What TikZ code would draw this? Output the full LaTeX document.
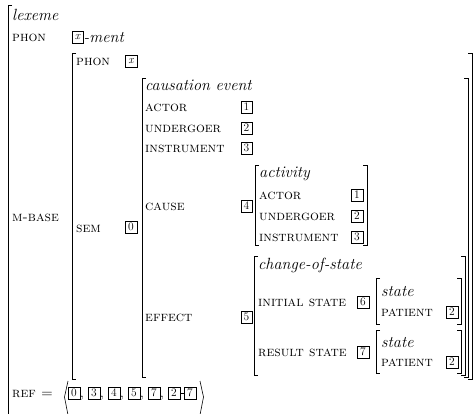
\documentclass[tikz,border=0pt]{standalone}
\usepackage{fontspec}
\newcommand\avmL[3]{\draw[brk] ({#1+4},#2) -- (#1,#2) -- (#1,#3) -- ({#1+4},#3);}
\newcommand\avmR[3]{\draw[brk] ({#1-4},#2) -- (#1,#2) -- (#1,#3) -- ({#1-4},#3);}
\tikzset{
  lbl/.style={anchor=base west, inner sep=0pt, font=\fontsize{14}{16}\selectfont\scshape},
  typ/.style={anchor=base west, inner sep=0pt, font=\fontsize{16.2}{18}\selectfont\itshape},
  tagbox/.style={draw, line width=0.5pt, minimum width=11.5pt, minimum height=11.5pt, inner sep=0pt, font=\fontsize{11.5}{12}\selectfont},
  brk/.style={line width=0.8pt},
}
\begin{document}
\begin{tikzpicture}[x=1pt,y=-1pt]
\useasboundingbox (0,0) rectangle (473,413);
% brackets
\avmL{8}{5}{420}
\avmL{72}{53}{379} \avmR{472}{53}{379}
\avmL{142}{78}{377} \avmR{468}{78}{377}
\avmL{255}{165}{245} \avmR{367}{165}{245}
\avmL{254}{256}{375} \avmR{465}{256}{375}
\avmL{376}{278}{324} \avmR{461}{278}{324}
\avmL{376}{330}{373} \avmR{461}{330}{373}
% outer
\node[typ] (lex) at (12,20) {lexeme};
\node[lbl] (phon1) at (12,41) {phon};
\node[tagbox] (tx1) at (77.5,37) {\itshape x};
\node[typ] (ment) at (83.5,42) {-ment};
\node[lbl] (mbase) at (12,221) {m-base};
% m-base value
\node[lbl] (phon2) at (76,65) {phon};
\node[tagbox] (tx2) at (131,61) {\itshape x};
\node[lbl] (sem) at (76,232) {sem};
\node[tagbox] (t0) at (131,227) {0};
% causation event
\node[typ] (caus) at (145,90) {causation event};
\node[lbl] (act1) at (145,111) {actor};
\node[tagbox] (c1) at (246.5,107) {1};
\node[lbl] (und1) at (145,132) {undergoer};
\node[tagbox] (c2) at (246.5,128) {2};
\node[lbl] (ins1) at (145,152) {instrument};
\node[tagbox] (c3) at (246.5,148) {3};
\node[lbl] (cause) at (145,210) {cause};
\node[tagbox] (c4) at (246.5,206) {4};
\node[lbl] (effect) at (145,321) {effect};
\node[tagbox] (c5) at (246.5,317) {5};
% activity
\node[typ] (actv) at (259,177) {activity};
\node[lbl] (act2) at (259,199) {actor};
\node[tagbox] (a1) at (357,195) {1};
\node[lbl] (und2) at (259,220) {undergoer};
\node[tagbox] (a2) at (357,216) {2};
\node[lbl] (ins2) at (259,241) {instrument};
\node[tagbox] (a3) at (357,237) {3};
% change of state
\node[typ] (cos) at (258,269) {change-of-state};
\node[lbl] (init) at (258,306) {initial state};
\node[tagbox] (s6) at (363,302) {6};
\node[typ] (st1) at (381,296) {state};
\node[lbl] (pat1) at (381,316) {patient};
\node[tagbox] (p1) at (452,312) {2};
\node[lbl] (res) at (258,356) {result state};
\node[tagbox] (s7) at (363,352) {7};
\node[typ] (st2) at (381,347) {state};
\node[lbl] (pat2) at (381,366) {patient};
\node[tagbox] (p2) at (452,362) {2};
% ref
\node[lbl] (ref) at (12,397) {ref =};
\draw[line width=0.6pt] (68,381) -- (64.5,397) -- (68,415);
\node[tagbox] (r0) at (74,393) {0};
\node[lbl, font=\fontsize{14}{16}\selectfont] (k0) at (80,397) {,};
\node[tagbox] (r3) at (94,393) {3};
\node[lbl, font=\fontsize{14}{16}\selectfont] (k3) at (100,397) {,};
\node[tagbox] (r4) at (114,393) {4};
\node[lbl, font=\fontsize{14}{16}\selectfont] (k4) at (120,397) {,};
\node[tagbox] (r5) at (134,393) {5};
\node[lbl, font=\fontsize{14}{16}\selectfont] (k5) at (140,397) {,};
\node[tagbox] (r7) at (154,393) {7};
\node[lbl, font=\fontsize{14}{16}\selectfont] (k7) at (160,397) {,};
\node[tagbox] (r2) at (174,393) {2};
\node[tagbox] (r7b) at (190,393) {7};
\draw[line width=0.6pt] (r2.east) -- (r7b.west);
\draw[line width=0.6pt] (200,381) -- (203.5,397) -- (200,415);
\end{tikzpicture}
\end{document}
